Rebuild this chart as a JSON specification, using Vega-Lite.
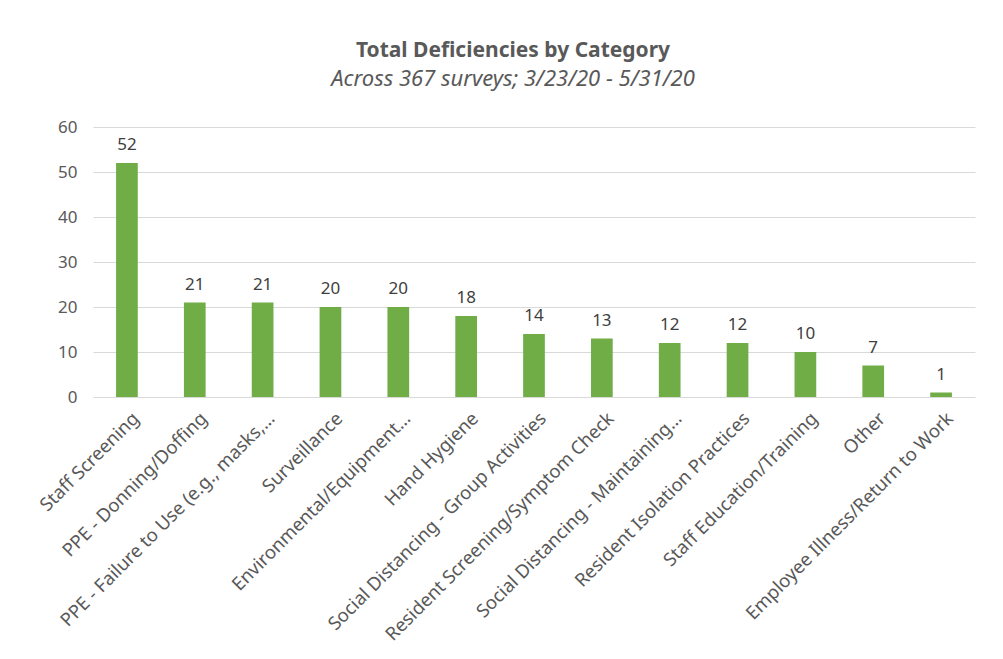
{
  "$schema": "https://vega.github.io/schema/vega-lite/v6.json",
  "autosize": {"type": "none"},
  "padding": {"left": 93, "top": 127, "right": 28, "bottom": 262},
  "width": 882,
  "height": 270,
  "background": "white",
  "title": {
    "text": "Total Deficiencies by Category",
    "subtitle": "Across 367 surveys; 3/23/20 - 5/31/20",
    "anchor": "middle",
    "dx": -21,
    "offset": 28,
    "font": "Noto Sans",
    "fontSize": 21,
    "fontWeight": "bold",
    "color": "#595959",
    "subtitleFont": "Noto Sans",
    "subtitleFontSize": 22,
    "subtitleFontStyle": "italic",
    "subtitleColor": "#595959",
    "subtitlePadding": 8
  },
  "data": {
    "values": [
      {"category": "Staff Screening", "count": 52},
      {"category": "PPE - Donning/Doffing", "count": 21},
      {"category": "PPE - Failure to Use (e.g., masks,…", "count": 21},
      {"category": "Surveillance", "count": 20},
      {"category": "Environmental/Equipment…", "count": 20},
      {"category": "Hand Hygiene", "count": 18},
      {"category": "Social Distancing - Group Activities", "count": 14},
      {"category": "Resident Screening/Symptom Check", "count": 13},
      {"category": "Social Distancing - Maintaining…", "count": 12},
      {"category": "Resident Isolation Practices", "count": 12},
      {"category": "Staff Education/Training", "count": 10},
      {"category": "Other", "count": 7},
      {"category": "Employee Illness/Return to Work", "count": 1}
    ]
  },
  "encoding": {
    "x": {
      "field": "category",
      "type": "nominal",
      "sort": null,
      "scale": {"paddingInner": 0.68, "paddingOuter": 0.34},
      "axis": {
        "title": null,
        "labelAngle": -45,
        "labelAlign": "right",
        "labelBaseline": "middle",
        "labelFont": "Noto Sans",
        "labelFontSize": 18.5,
        "labelColor": "#595959",
        "labelPadding": 18,
        "labelOffset": 9,
        "labelLimit": 400,
        "ticks": false,
        "domain": false,
        "grid": false
      }
    },
    "y": {
      "field": "count",
      "type": "quantitative",
      "scale": {"domain": [0, 60], "nice": false},
      "axis": {
        "title": null,
        "values": [0, 10, 20, 30, 40, 50, 60],
        "labelFont": "Noto Sans",
        "labelFontSize": 17,
        "labelColor": "#595959",
        "labelPadding": 16,
        "ticks": false,
        "domain": false,
        "grid": true,
        "gridColor": "#d9d9d9",
        "gridWidth": 1.2
      }
    }
  },
  "layer": [
    {"mark": {"type": "bar", "color": "#70ad47"}},
    {
      "mark": {
        "type": "text",
        "baseline": "bottom",
        "dy": -9,
        "font": "Noto Sans",
        "fontSize": 17,
        "color": "#404040"
      },
      "encoding": {"text": {"field": "count", "type": "quantitative"}}
    }
  ],
  "config": {"view": {"stroke": null}}
}
